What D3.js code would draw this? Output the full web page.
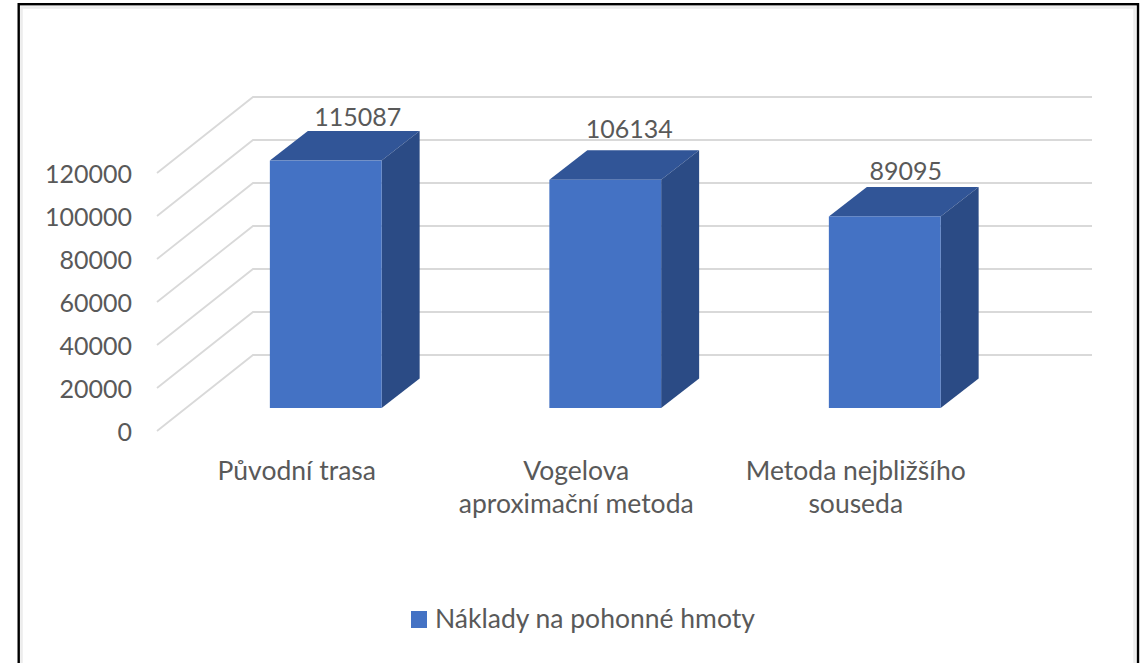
<!DOCTYPE html>
<html>
<head>
<meta charset="utf-8">
<script src="https://cdn.jsdelivr.net/npm/d3@7"></script>
<style>
  html, body { margin: 0; padding: 0; background: #fff; }
  svg { display: block; }
  text { font-family: Lato, "Noto Sans", sans-serif; fill: #595959; }
</style>
</head>
<body>
<svg id="chart" width="1147" height="663"></svg>
<script>
const categories = ["Původní trasa", "Vogelova aproximační metoda", "Metoda nejbližšího souseda"];
const categoryLines = [["Původní trasa"], ["Vogelova", "aproximační metoda"], ["Metoda nejbližšího", "souseda"]];
const values = [115087, 106134, 89095];
const yTicks = [0, 20000, 40000, 60000, 80000, 100000, 120000];
const seriesName = "Náklady na pohonné hmoty";

const svg = d3.select("#chart");

// outer frame of the picture, with the faint shadow just inside it
svg.append("rect")
    .attr("x", 21.5).attr("y", 7.5)
    .attr("width", 1113).attr("height", 664)
    .attr("fill", "#fff").attr("stroke", "#ececec").attr("stroke-width", 2.5);
svg.append("rect")
    .attr("x", 18.7).attr("y", 4.2)
    .attr("width", 1119.3).attr("height", 664)
    .attr("fill", "none").attr("stroke", "#000").attr("stroke-width", 2.4);

// y is the back wall, floor runs towards the viewer from there
let y = d3.scaleLinear().domain([0, 120000]).range([355, 97]);
let x = d3.scaleBand().domain(categories).range([186, 1024.5]).paddingInner(0.6).paddingOuter(0.3);
const wallLeft = 253, wallRight = 1092;
const floorDx = 96, floorDy = 76;     // wall to front edge of the floor
const barFront = 53;                  // wall to front face of the bars
const barDx = 38, barDy = 29.5;       // bar depth

let grid = svg.append("g").attr("fill", "none").attr("stroke", "#d9d9d9").attr("stroke-width", 1.8);
grid.selectAll("path")
    .data(yTicks)
    .join("path")
    .attr("d", d => `M${wallLeft - floorDx},${y(d) + floorDy}L${wallLeft},${y(d)}H${wallRight}`);

let yAxis = d3.axisLeft(y.copy().range([355 + floorDy, 97 + floorDy]))
    .tickValues(yTicks)
    .tickFormat(d3.format("d"))
    .tickSize(0)
    .tickPadding(0);
let gAxis = svg.append("g").attr("transform", "translate(132,0)").call(yAxis);
gAxis.select(".domain").remove();
gAxis.selectAll("text").style("font-size", "25px").attr("dy", "0.36em");

let bars = svg.append("g").selectAll("g")
    .data(values)
    .join("g")
    .attr("transform", (d, i) => `translate(${x(categories[i])},0)`);
let bw = x.bandwidth();
let base = y(0) + barFront;
let top_ = d => y(d) + barFront;

bars.append("path").attr("fill", "#315597")
    .attr("d", d => `M0,${top_(d)}l${barDx},${-barDy}h${bw}l${-barDx},${barDy}Z`);
bars.append("path").attr("fill", "#2b4b85")
    .attr("d", d => `M${bw},${top_(d)}l${barDx},${-barDy}V${base - barDy}L${bw},${base}Z`);
bars.append("rect").attr("fill", "#4472c4")
    .attr("x", 0).attr("y", top_).attr("width", bw).attr("height", d => base - top_(d));

// the data labels were nudged by hand in the original, so they don't sit evenly
const labelNudge = [[88, 5], [80, 12], [77, 7]];
bars.append("text")
    .attr("x", (d, i) => labelNudge[i][0])
    .attr("y", (d, i) => top_(d) - barDy - labelNudge[i][1])
    .attr("text-anchor", "middle")
    .style("font-size", "25px")
    .text(d => d);

let labels = svg.append("g").selectAll("text")
    .data(categoryLines)
    .join("text")
    .attr("text-anchor", "middle")
    .attr("transform", (d, i) => `translate(${x(categories[i]) + bw / 2 - 29},480)`)
    .style("font-size", "26.5px");
labels.selectAll("tspan")
    .data(d => d)
    .join("tspan")
    .attr("x", 0)
    .attr("y", (d, i) => i * 33)
    .text(d => d);

let legend = svg.append("g");
legend.append("rect").attr("x", 411).attr("y", 611).attr("width", 16).attr("height", 17).attr("fill", "#4472c4");
legend.append("text").attr("x", 435).attr("y", 628).style("font-size", "26.5px").text(seriesName);
</script>
</body>
</html>
